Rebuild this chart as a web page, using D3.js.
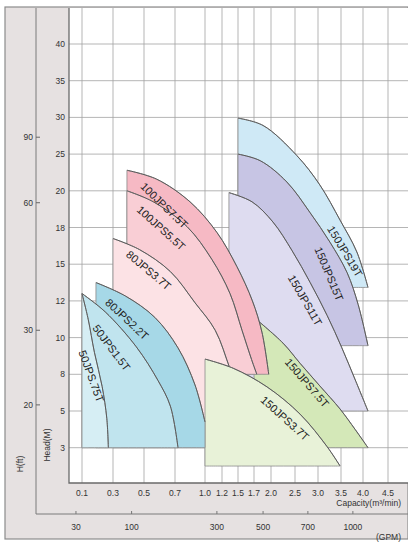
<!DOCTYPE html>
<html>
<head>
<meta charset="utf-8">
<script src="https://cdn.jsdelivr.net/npm/d3@7"></script>
<style>
  body { margin: 0; background: #fff; }
  svg { display: block; font-family: "Liberation Sans", Arial, sans-serif; }
  .grid line { stroke: #a2a2a2; stroke-width: 0.8; }
  .tick-label { font-size: 8.5px; fill: #333; }
  .region { stroke: #8a8a8a; stroke-width: 0.8; }
  .curve { fill: none; stroke: #5a5a5a; stroke-width: 1; }
  .pump-label { font-size: 11px; fill: #222; }
</style>
</head>
<body>
<svg id="chart" width="408" height="542"></svg>
<script>
// axis ticks
const headTicks = [40, 35, 30, 25, 20, 18, 15, 12, 10, 8, 5, 3];
const capacityTicks = [0.1, 0.3, 0.5, 0.7, 1.0, 1.2, 1.5, 1.7, 2.0, 2.5, 3.0, 3.5, 4.0, 4.5];
const feetTicks = ['90', '60', '30', '20'];
const feetAsHead = [27.3, 19.35, 10.4, 5.5];
const gpmTicks = ['30', '100', '300', '500', '700', '1000'];
const gpmAsCapacity = [0.061, 0.42, 1.14, 1.86, 2.78, 3.77];

// pumps, back to front
const pumpNames = ['150JPS19T', '150JPS15T', '150JPS11T', '150JPS7.5T', '100JPS7.5T',
  '100JPS5.5T', '80JPS3.7T', '150JPS3.7T', '80JPS2.2T', '50JPS1.5T', '50JPS.75T'];
const pumpBase = [13.1, 9.56, 5, 3, 8, 8, 3, 1.5, 3, 3, 3];

// [capacity m3/min, head m] along each curve
const curve150JPS19T = [[1.5, 29.9], [1.86, 28.9], [2.54, 24.8], [3.04, 20.8], [3.48, 18.4], [3.86, 16.0], [4.1, 13.1]];
const curve150JPS15T = [[1.5, 25], [1.81, 24.1], [2.33, 21.2], [2.83, 18.8], [3.26, 16.8], [3.64, 14.3], [3.89, 11.8], [4.1, 9.56]];
const curve150JPS11T = [[1.33, 19.9], [1.675, 19.4], [2.04, 18.3], [2.44, 16.1], [2.83, 13.5], [3.2, 11.2], [3.52, 9.44], [3.84, 7.4], [4.1, 5]];
const curve150JPS75T = [[1.7, 11.1], [2.25, 9.7], [2.61, 8.6], [3.04, 7.05], [3.48, 5.16], [3.82, 4.0], [4.1, 3]];
const curve100JPS75T = [[0.39, 22.8], [0.58, 21.6], [0.85, 19.4], [1.14, 17.6], [1.48, 14.8], [1.68, 12], [1.84, 10.3], [1.96, 8]];
const curve100JPS55T = [[0.39, 20], [0.56, 19.4], [0.82, 18.05], [1.08, 15.4], [1.35, 12.6], [1.55, 10.4], [1.67, 8.8], [1.75, 8]];
const curve80JPS37T = [[0.3, 17.1], [0.47, 16.2], [0.67, 14.4], [0.9, 11.9], [1.12, 10.4], [1.35, 8.3], [1.56, 5.6]];
const curve150JPS37T = [[1.0, 8.83], [1.41, 8.33], [1.93, 6.97], [2.61, 4.83], [3.2, 3.05], [3.48, 1.5]];
const curve80JPS22T = [[0.19, 13.5], [0.38, 12.4], [0.57, 11.1], [0.73, 9.44], [0.9, 7.13], [1.0, 4.4]];
const curve50JPS15T = [[0.1, 12.6], [0.25, 11.4], [0.45, 9.5], [0.59, 7.5], [0.67, 5.4], [0.73, 3]];
const curve50JPS075T = [[0.1, 12.6], [0.14, 11.0], [0.18, 9.2], [0.23, 7.0], [0.26, 4.6], [0.27, 3]];

const pumpCurves = [curve150JPS19T, curve150JPS15T, curve150JPS11T, curve150JPS75T, curve100JPS75T,
  curve100JPS55T, curve80JPS37T, curve150JPS37T, curve80JPS22T, curve50JPS15T, curve50JPS075T];

// styling / layout
const fills = ['#cfe9f6', '#c7c5e4', '#dedcf0', '#d4e8b8', '#f6b9c4', '#f9ced5', '#fce2e5',
  '#e8f2d8', '#a6d8e7', '#c0e4ee', '#d6eef4'];
const labelAt = [[3.59, 16.05, 59], [3.24, 14.2, 67], [2.72, 12.05, 60], [2.76, 7.3, 49],
  [0.63, 19.2, 44], [0.61, 17.95, 42], [0.53, 14.5, 40], [2.29, 4.6, 42],
  [0.39, 11.0, 43], [0.29, 9.45, 53], [0.16, 7.85, 70]];

const W = 408, H = 542;
const plot = { left: 69, top: 8, bottom: 483 };
const headTop = 44, headStep = 36.7;
const xStops = [82, 113, 144, 175, 205, 222, 238, 254, 271, 295, 318, 341, 363, 388];

const svg = d3.select('#chart');

const y = d3.scaleLinear()
  .domain(headTicks.concat([0]))
  .range(headTicks.map((d, i) => headTop + i * headStep).concat([headTop + headTicks.length * headStep]));
const x = d3.scaleLinear()
  .domain(capacityTicks)
  .range(xStops);

// panels
svg.append('rect')
  .attr('x', 5).attr('y', 7)
  .attr('width', W - 5).attr('height', H - 10)
  .attr('fill', '#e6e1e1')
  .attr('stroke', '#8c8c8c')
  .attr('stroke-width', 1.2);
svg.append('rect')
  .attr('x', plot.left).attr('y', plot.top)
  .attr('width', W - plot.left).attr('height', plot.bottom - plot.top)
  .attr('fill', '#fff');

// grid
const grid = svg.append('g').classed('grid', true);
grid.selectAll('.h')
  .data(headTicks)
  .enter().append('line')
  .attr('x1', plot.left).attr('x2', W)
  .attr('y1', d => y(d)).attr('y2', d => y(d));
grid.selectAll('.v')
  .data(capacityTicks)
  .enter().append('line')
  .attr('x1', d => x(d)).attr('x2', d => x(d))
  .attr('y1', plot.top).attr('y2', plot.bottom);

// pump regions
const area = d3.area()
  .x(d => x(d[0]))
  .y1(d => y(d[1]))
  .curve(d3.curveCatmullRom.alpha(0.5));
const line = d3.line()
  .x(d => x(d[0]))
  .y(d => y(d[1]))
  .curve(d3.curveCatmullRom.alpha(0.5));

const regions = svg.append('g');
pumpCurves.forEach((pts, i) => {
  regions.append('path')
    .classed('region', true)
    .attr('fill', fills[i])
    .attr('d', area.y0(y(pumpBase[i]))(pts));
  regions.append('path')
    .classed('curve', true)
    .attr('d', line(pts));
});

// pump labels
svg.append('g')
  .selectAll('text')
  .data(pumpNames)
  .enter().append('text')
  .classed('pump-label', true)
  .attr('text-anchor', 'middle')
  .attr('dy', '0.35em')
  .attr('transform', (d, i) => `translate(${x(labelAt[i][0])},${y(labelAt[i][1])}) rotate(${labelAt[i][2]})`)
  .text(d => d);

// frame lines
const frame = svg.append('g').attr('fill', 'none');
frame.append('path')
  .attr('d', `M${plot.left},${plot.top}V${plot.bottom}H${W}`)
  .attr('stroke', '#6a6a6a').attr('stroke-width', 1.3);
frame.append('path')
  .attr('d', `M36,${plot.top}V514H${W}`)
  .attr('stroke', '#7a7a7a').attr('stroke-width', 1);

// head (m) axis
svg.append('g')
  .selectAll('text')
  .data(headTicks)
  .enter().append('text')
  .classed('tick-label', true)
  .attr('text-anchor', 'end')
  .attr('x', 65)
  .attr('y', d => y(d) + 3)
  .text(d => d);

// feet axis
const ft = svg.append('g');
ft.selectAll('line')
  .data(feetAsHead)
  .enter().append('line')
  .attr('x1', 36).attr('x2', 40)
  .attr('y1', d => y(d)).attr('y2', d => y(d))
  .attr('stroke', '#666');
ft.selectAll('text')
  .data(feetTicks)
  .enter().append('text')
  .classed('tick-label', true)
  .attr('text-anchor', 'end')
  .attr('x', 33)
  .attr('y', (d, i) => y(feetAsHead[i]) + 3)
  .text(d => d);

// capacity axis
svg.append('g')
  .selectAll('text')
  .data(capacityTicks)
  .enter().append('text')
  .classed('tick-label', true)
  .attr('text-anchor', 'middle')
  .attr('x', d => x(d))
  .attr('y', 496)
  .text(d => d.toFixed(1));

// gpm axis
const gpm = svg.append('g');
gpm.selectAll('line')
  .data(gpmAsCapacity)
  .enter().append('line')
  .attr('x1', d => x(d)).attr('x2', d => x(d))
  .attr('y1', 511).attr('y2', 514)
  .attr('stroke', '#777');
gpm.selectAll('text')
  .data(gpmTicks)
  .enter().append('text')
  .classed('tick-label', true)
  .attr('text-anchor', 'middle')
  .attr('x', (d, i) => x(gpmAsCapacity[i]))
  .attr('y', 530)
  .text(d => d);

// titles
svg.append('text').classed('tick-label', true)
  .attr('text-anchor', 'end').attr('x', 401).attr('y', 506)
  .text('Capacity(m³/min)');
svg.append('text').classed('tick-label', true)
  .attr('text-anchor', 'end').attr('x', 401).attr('y', 540)
  .text('(GPM)');
svg.append('text').classed('tick-label', true)
  .attr('text-anchor', 'middle')
  .attr('transform', 'translate(23,464) rotate(-90)')
  .text('H(ft)');
svg.append('text').classed('tick-label', true)
  .attr('text-anchor', 'middle')
  .attr('transform', 'translate(50,445) rotate(-90)')
  .text('Head(M)');
</script>
</body>
</html>
